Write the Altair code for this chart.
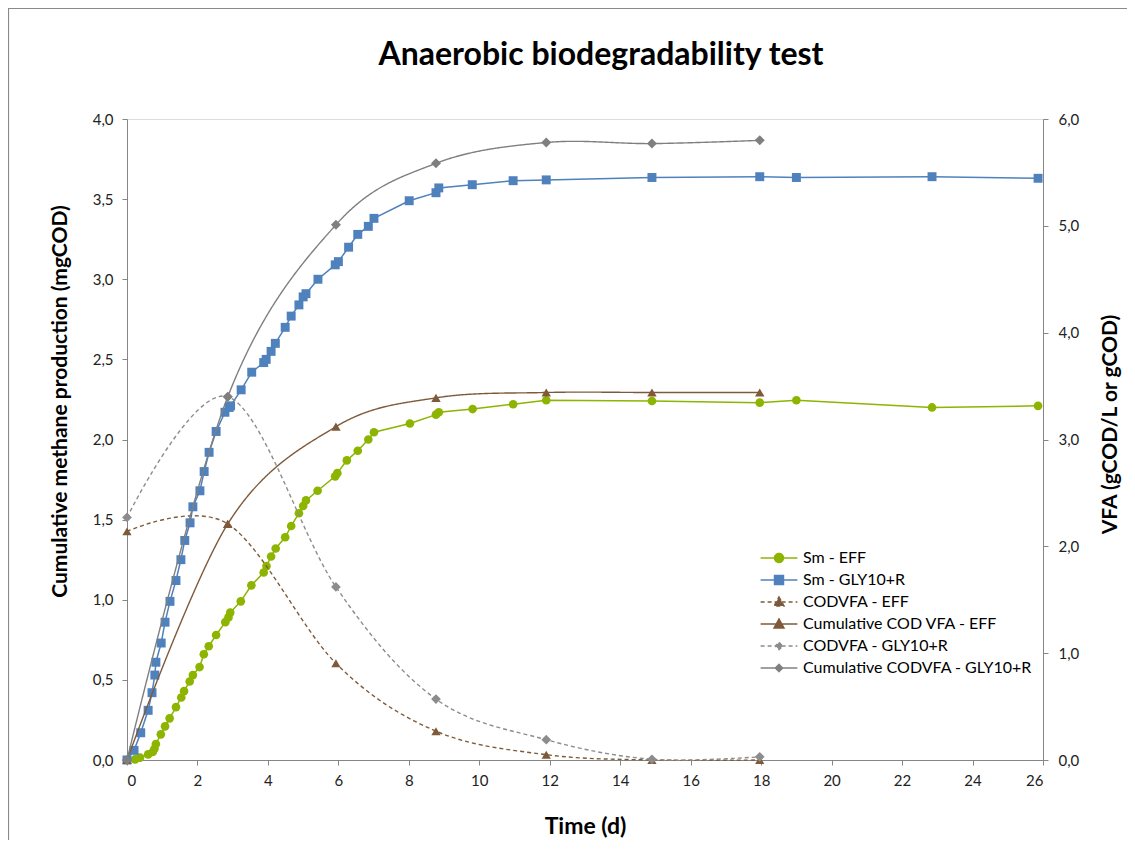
import altair as alt
import pandas as pd

# ---------------- data ----------------
series = [
    "Sm - EFF",
    "Sm - GLY10+R",
    "CODVFA - EFF",
    "Cumulative COD VFA - EFF",
    "CODVFA - GLY10+R",
    "Cumulative CODVFA - GLY10+R",
]

sm_eff_t = [0, 0.23, 0.37, 0.60, 0.73, 0.78, 0.82, 0.96, 1.08, 1.21,
            1.39, 1.54, 1.62, 1.78, 1.87, 2.06, 2.18, 2.32, 2.53, 2.79,
            2.88, 2.93, 3.23, 3.53, 3.88, 3.96, 4.09, 4.22, 4.49, 4.66,
            4.88, 5.00, 5.08, 5.41, 5.91, 5.97, 6.24, 6.55, 6.85, 7.01,
            8.03, 8.77, 8.85, 9.81, 10.96, 11.90, 14.90, 17.96, 19.00, 22.85,
            25.86]
sm_eff_v = [0, 0.004, 0.015, 0.035, 0.05, 0.07, 0.10, 0.16, 0.21, 0.26,
            0.33, 0.39, 0.43, 0.49, 0.53, 0.58, 0.66, 0.71, 0.78, 0.86,
            0.89, 0.92, 0.99, 1.09, 1.17, 1.21, 1.27, 1.32, 1.39, 1.46,
            1.54, 1.585, 1.62, 1.68, 1.77, 1.79, 1.87, 1.93, 2.00, 2.045,
            2.10, 2.155, 2.17, 2.19, 2.22, 2.245, 2.24, 2.23, 2.245, 2.20,
            2.21]

sm_gly_t = [0, 0.20, 0.39, 0.60, 0.71, 0.79, 0.82, 0.97, 1.08, 1.22,
            1.39, 1.53, 1.64, 1.79, 1.87, 2.07, 2.19, 2.33, 2.53, 2.78,
            2.90, 2.94, 3.24, 3.54, 3.88, 3.95, 4.09, 4.21, 4.49, 4.66,
            4.88, 5.00, 5.08, 5.42, 5.91, 6.00, 6.29, 6.55, 6.85, 7.01,
            8.01, 8.77, 8.85, 9.80, 10.96, 11.90, 14.90, 17.96, 19.00, 22.85,
            25.86]
sm_gly_v = [0, 0.06, 0.17, 0.31, 0.42, 0.53, 0.61, 0.73, 0.86, 0.99,
            1.12, 1.25, 1.37, 1.48, 1.58, 1.68, 1.80, 1.92, 2.05, 2.17,
            2.20, 2.21, 2.31, 2.42, 2.48, 2.50, 2.55, 2.60, 2.70, 2.77,
            2.84, 2.89, 2.91, 3.00, 3.09, 3.11, 3.20, 3.28, 3.33, 3.38,
            3.49, 3.54, 3.57, 3.59, 3.615, 3.62, 3.635, 3.64, 3.635, 3.64,
            3.63]

vfa_t = [0, 2.86, 5.93, 8.77, 11.90, 14.90, 17.96]
codvfa_eff = [2.14, 2.21, 0.905, 0.27, 0.05, 0.0, 0.0]
cum_codvfa_eff = [0, 2.21, 3.12, 3.39, 3.44, 3.44, 3.44]
codvfa_gly = [2.27, 3.40, 1.62, 0.57, 0.19, 0.007, 0.03]
cum_codvfa_gly = [0, 3.40, 5.01, 5.585, 5.78, 5.77, 5.80]

# ---------------- styles ----------------
colors = ["#8DB400", "#4F81BD", "#7E5A3A", "#7E5A3A", "#8C8C8C", "#7F7F7F"]
shapes = ["circle", "square", "triangle-up", "triangle-up", "diamond", "diamond"]
sizes = [75, 100, 80, 80, 45, 45]
dashes = [[1, 0], [1, 0], [4, 3], [1, 0], [4, 3], [1, 0]]
FONT = "Lato"

df_sm = pd.concat([
    pd.DataFrame({"t": sm_eff_t, "value": sm_eff_v, "series": series[0]}),
    pd.DataFrame({"t": sm_gly_t, "value": sm_gly_v, "series": series[1]}),
], ignore_index=True)

df_vfa = pd.concat([
    pd.DataFrame({"t": vfa_t, "value": codvfa_eff, "series": series[2]}),
    pd.DataFrame({"t": vfa_t, "value": cum_codvfa_eff, "series": series[3]}),
    pd.DataFrame({"t": vfa_t, "value": codvfa_gly, "series": series[4]}),
    pd.DataFrame({"t": vfa_t, "value": cum_codvfa_gly, "series": series[5]}),
], ignore_index=True)

# marker key with its own domain, so that the legend is not merged with the marker scales
markers = ["m:" + s for s in series]
df_sm["marker"] = "m:" + df_sm["series"]
df_vfa["marker"] = "m:" + df_vfa["series"]

# legend symbols: a short line with the marker in its middle (unit = 8 px)
legend_paths = {
    "circle": "M-2.3,0L2.3,0M0.56,0A0.56,0.56,0,1,1,-0.56,0A0.56,0.56,0,1,1,0.56,0Z",
    "square": "M-2.3,0L2.3,0M-0.56,-0.56L0.56,-0.56L0.56,0.56L-0.56,0.56Z",
    "triangle-up": "M-2.3,0L2.3,0M0,-0.62L0.62,0.5L-0.62,0.5Z",
    "diamond": "M-2.3,0L2.3,0M0,-0.45L0.45,0L0,0.45L-0.45,0Z",
}
shape_expr = ""
for s, shp in zip(series, shapes):
    shape_expr += f"datum.value === '{s}' ? '{legend_paths[shp]}' : "
shape_expr += "'circle'"
dash_expr = "indexof(['CODVFA - EFF', 'CODVFA - GLY10+R'], datum.value) >= 0 ? [4, 3] : [1, 0]"

legend = alt.Legend(
    title=None,
    orient="none",
    legendX=643,
    legendY=430,
    labelFont=FONT,
    labelFontSize=16,
    labelColor="#000000",
    labelLimit=400,
    labelOffset=15,
    rowPadding=5,
    symbolSize=256,
    symbolStrokeWidth=1.5,
    symbolOpacity=1,
    symbolType={"expr": shape_expr},
    symbolDash={"expr": dash_expr},
)

color = alt.Color("series:N", scale=alt.Scale(domain=series, range=colors), legend=legend)
shape = alt.Shape("marker:N", scale=alt.Scale(domain=markers, range=shapes), legend=None)
size = alt.Size("marker:N", scale=alt.Scale(domain=markers, range=sizes), legend=None)
dash = alt.StrokeDash("series:N", scale=alt.Scale(domain=series, range=dashes), legend=None)

comma_fmt = "replace(format(datum.value, '.1f'), '.', ',')"
axis_common = dict(
    grid=False,
    domainColor="#868686",
    tickColor="#868686",
    tickSize=5,
    labelFont=FONT,
    labelFontSize=15,
    labelColor="#222222",
    titleFont=FONT,
    titleFontSize=21,
    titleFontWeight="bold",
    titleColor="#000000",
)

x = alt.X(
    "t:Q",
    scale=alt.Scale(domain=[0, 26], nice=False, zero=False),
    axis=alt.Axis(values=list(range(0, 27, 2)), title="Time (d)", labelPadding=8,
                  titlePadding=27, titleX=458, **{**axis_common, "titleFontSize": 23}),
)

y_left = alt.Y(
    "value:Q",
    scale=alt.Scale(domain=[0, 4], nice=False),
    axis=alt.Axis(orient="left", values=[0, 0.5, 1, 1.5, 2, 2.5, 3, 3.5, 4],
                  labelExpr=comma_fmt, title="Cumulative methane production (mgCOD)",
                  labelPadding=9, titlePadding=22, titleY=282, **axis_common),
)
y_right = alt.Y(
    "value:Q",
    scale=alt.Scale(domain=[0, 6], nice=False),
    axis=alt.Axis(orient="right", values=[0, 1, 2, 3, 4, 5, 6], labelExpr=comma_fmt,
                  title="VFA (gCOD/L or gCOD)", titleAngle=270, titleBaseline="top",
                  labelPadding=10, titlePadding=21, titleY=305, **axis_common),
)

base_left = alt.Chart(df_sm).encode(x=x, y=y_left, color=color)
left = alt.layer(
    base_left.mark_line(strokeWidth=1.5),
    base_left.mark_point(filled=True, opacity=1).encode(shape=shape, size=size),
)

base_right = alt.Chart(df_vfa).encode(x=x, y=y_right, color=color)
right = alt.layer(
    base_right.mark_line(interpolate="cardinal", strokeWidth=1.4).encode(strokeDash=dash),
    base_right.mark_point(filled=True, opacity=1).encode(shape=shape, size=size),
)

# thin grey chart-area frame (decoration only)
frame = alt.Chart(pd.DataFrame({"k": [0]})).mark_rect(
    fill=None, stroke="#8a8a8a", strokeWidth=1.2
).encode(
    x=alt.value(-118.5), x2=alt.value(1200), y=alt.value(-110.5), y2=alt.value(900)
)

chart = (
    alt.layer(frame, left, right)
    .resolve_scale(y="independent")
    .properties(
        width=916,
        height=641,
        autosize=alt.AutoSizeParams(type="none"),
        padding={"left": 119, "top": 111, "right": 84, "bottom": 80},
        title=alt.TitleParams(
            "Anaerobic biodegradability test",
            font=FONT,
            fontSize=32,
            fontWeight="bold",
            color="#000000",
            anchor="middle",
            dx=16,
            offset=-64,
        ),
    )
    .configure_view(stroke=None)
    .configure(background="white")
)

chart.save("out.html", embed_options={"renderer": "svg", "actions": False})
